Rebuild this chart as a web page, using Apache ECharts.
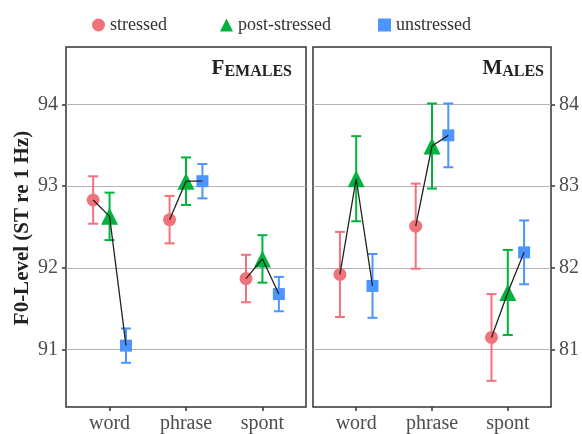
<!DOCTYPE html>
<html>
<head>
<meta charset="utf-8">
<script src="https://cdn.jsdelivr.net/npm/echarts@6/dist/echarts.min.js"></script>
<style>
html,body{margin:0;padding:0;background:#fff;}
#c{width:582px;height:434px;}
</style>
</head>
<body>
<div id="c"></div>
<script>
// ---- data ----
var categories = ['word', 'phrase', 'spont'];
var seriesNames = ['stressed', 'post-stressed', 'unstressed'];
var femStressed = [92.83, 92.59, 91.87];
var femStressedErr = [0.29, 0.29, 0.29];
var femPost = [92.63, 93.06, 92.11];
var femPostErr = [0.29, 0.29, 0.29];
var femUnstr = [91.05, 93.06, 91.68];
var femUnstrErr = [0.21, 0.21, 0.21];
var maleStressed = [81.92, 82.51, 81.15];
var maleStressedErr = [0.52, 0.52, 0.53];
var malePost = [83.09, 83.49, 81.70];
var malePostErr = [0.52, 0.52, 0.52];
var maleUnstr = [81.78, 83.62, 82.19];
var maleUnstrErr = [0.39, 0.39, 0.39];
var femTicks = [91, 92, 93, 94];
var maleTicks = [81, 82, 83, 84];
var catPositions = [1, 2, 3];

// ---- styling ----
var FONT = '"Liberation Serif", "DejaVu Serif", serif';
var COLORS = ['#F0737C', '#00B33C', '#4C94FF'];
var SYMBOLS = ['circle', 'triangle', 'rect'];
var SYMSIZE = [13, 17, 12];
var DODGE = [-0.215, 0, 0.215];

function errRender(params, api) {
  var x = api.value(0), lo = api.value(1), hi = api.value(2);
  var p1 = api.coord([x, hi]), p2 = api.coord([x, lo]);
  var hw = 5;
  var style = { stroke: api.visual('color'), lineWidth: 2 };
  return { type: 'group', children: [
    { type: 'line', shape: { x1: p1[0], y1: p1[1], x2: p2[0], y2: p2[1] }, style: style },
    { type: 'line', shape: { x1: p1[0] - hw, y1: p1[1], x2: p1[0] + hw, y2: p1[1] }, style: style },
    { type: 'line', shape: { x1: p2[0] - hw, y1: p2[1], x2: p2[0] + hw, y2: p2[1] }, style: style }
  ]};
}

var panels = [
  { means: [femStressed, femPost, femUnstr], errs: [femStressedErr, femPostErr, femUnstrErr] },
  { means: [maleStressed, malePost, maleUnstr], errs: [maleStressedErr, malePostErr, maleUnstrErr] }
];

var series = [];
panels.forEach(function (pn, gi) {
  // error bars
  for (var s = 0; s < 3; s++) {
    series.push({
      type: 'custom', name: 'err' + gi + s, xAxisIndex: gi, yAxisIndex: gi,
      renderItem: errRender, itemStyle: { color: COLORS[s] }, z: 2,
      encode: { x: 0, y: [1, 2] },
      data: catPositions.map(function (c, i) {
        return [c + DODGE[s], pn.means[s][i] - pn.errs[s][i], pn.means[s][i] + pn.errs[s][i]];
      })
    });
  }
  // points
  for (var s2 = 0; s2 < 3; s2++) {
    series.push({
      type: 'scatter', name: seriesNames[s2], xAxisIndex: gi, yAxisIndex: gi,
      symbol: SYMBOLS[s2], symbolSize: SYMSIZE[s2], z: 3,
      itemStyle: { color: COLORS[s2], opacity: 1 },
      data: catPositions.map(function (c, i) { return [c + DODGE[s2], pn.means[s2][i]]; })
    });
  }
  // connecting lines
  catPositions.forEach(function (c, i) {
    series.push({
      type: 'line', name: 'conn' + gi + i, xAxisIndex: gi, yAxisIndex: gi,
      symbol: 'none', z: 5, silent: true,
      lineStyle: { color: '#222', width: 1.3 },
      data: [0, 1, 2].map(function (s) { return [c + DODGE[s], pn.means[s][i]]; })
    });
  });
});

function xAxisCfg(gi) {
  return {
    type: 'value', gridIndex: gi, min: 0.43, max: 3.57,
    axisLine: { show: false },
    axisTick: { show: true, length: 4, customValues: catPositions, lineStyle: { color: '#333', width: 1.5 } },
    axisLabel: { customValues: catPositions, formatter: function (v) { return categories[Math.round(v) - 1]; },
      fontFamily: FONT, fontSize: 20, color: '#4d4d4d', margin: 7 },
    splitLine: { show: false }
  };
}
function yAxisCfg(gi, ticks, mn, mx, pos) {
  return {
    type: 'value', gridIndex: gi, min: mn, max: mx, position: pos,
    axisLine: { show: false },
    axisTick: { show: true, length: 4, customValues: ticks, lineStyle: { color: '#333', width: 1.5 } },
    axisLabel: { show: true, customValues: ticks, fontFamily: FONT, fontSize: 20, color: '#4d4d4d', margin: 8 },
    splitLine: { show: true, lineStyle: { color: '#b3b3b3', width: 1.2 } }
  };
}

function legendCfg(i, left) {
  return {
    left: left, top: 11, itemWidth: 13, itemHeight: 13, itemGap: 5,
    icon: SYMBOLS[i], data: [seriesNames[i]],
    textStyle: { fontFamily: FONT, fontSize: 18, color: '#333' }
  };
}

var option = {
  animation: false,
  backgroundColor: '#fff',
  grid: [
    { left: 66, top: 47, width: 240, height: 363, show: true, borderColor: '#333', borderWidth: 1.5, containLabel: false },
    { left: 313, top: 47, width: 240, height: 363, show: true, borderColor: '#333', borderWidth: 1.5, containLabel: false }
  ],
  xAxis: [xAxisCfg(0), xAxisCfg(1)],
  yAxis: [yAxisCfg(0, femTicks, 90.3, 94.7, 'left'), yAxisCfg(1, maleTicks, 80.3, 84.7, 'right')],
  legend: [legendCfg(0, 87), legendCfg(1, 215), legendCfg(2, 373)],
  graphic: [
    { type: 'text', x: 292, y: 69, style: { text: '{a|F}{b|EMALES}', align: 'right', verticalAlign: 'middle',
      rich: { a: { fontFamily: FONT, fontSize: 21, fontWeight: 'bold', fill: '#222', lineHeight: 21, verticalAlign: 'bottom' },
              b: { fontFamily: FONT, fontSize: 16, fontWeight: 'bold', fill: '#222', lineHeight: 16, verticalAlign: 'bottom' } } } },
    { type: 'text', x: 544, y: 69, style: { text: '{a|M}{b|ALES}', align: 'right', verticalAlign: 'middle',
      rich: { a: { fontFamily: FONT, fontSize: 21, fontWeight: 'bold', fill: '#222', lineHeight: 21, verticalAlign: 'bottom' },
              b: { fontFamily: FONT, fontSize: 16, fontWeight: 'bold', fill: '#222', lineHeight: 16, verticalAlign: 'bottom' } } } },
    { type: 'text', x: 23, y: 228, rotation: Math.PI / 2,
      style: { text: 'F0-Level (ST re 1 Hz)', fontFamily: FONT, fontSize: 21, fontWeight: 'bold', fill: '#222',
        align: 'center', verticalAlign: 'middle' } }
  ],
  series: series
};

var chart = echarts.init(document.getElementById('c'), null, { renderer: 'canvas' });
chart.setOption(option);
</script>
</body>
</html>
